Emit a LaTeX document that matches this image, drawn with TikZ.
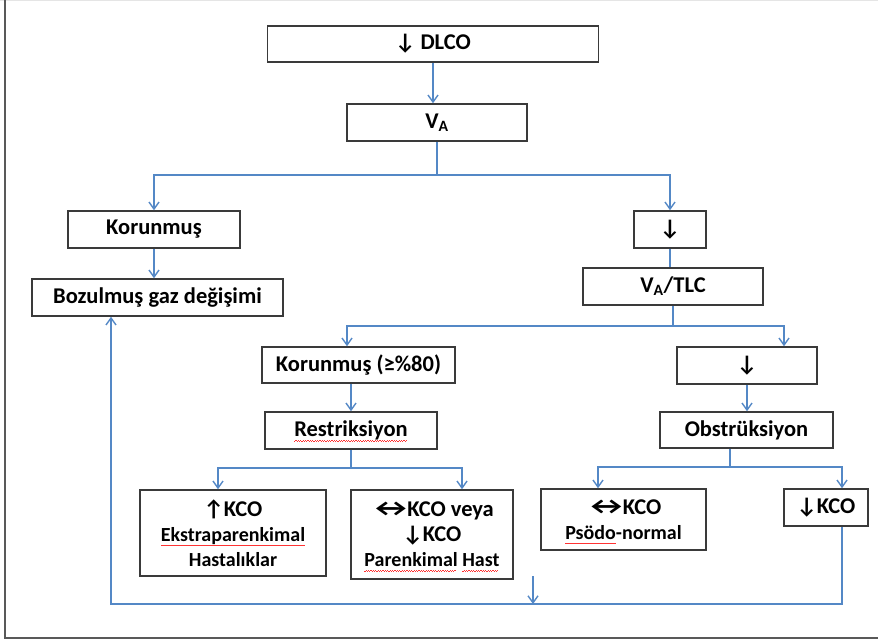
\documentclass[tikz,border=0pt]{standalone}
\usepackage{fontspec}
\usepackage{graphicx}
\setmainfont{Carlito}
\usetikzlibrary{arrows.meta}
\definecolor{flowblue}{RGB}{84,136,198}
\definecolor{boxgray}{RGB}{58,58,58}
% red spell-check wave under a word
\newcommand{\spell}[1]{\setbox0=\hbox{#1}\rlap{\raisebox{-4.5pt}[0pt][0pt]{\color{red!80}%
  \hbox to \wd0{\leaders\hbox{\rule{1.2pt}{0.6pt}\rule[0.6pt]{1.2pt}{0.6pt}}\hfill}}}\box0\relax}
\newcommand{\lrarrow}{\kern-2pt\scalebox{1.55}[1.1]{↔}\kern-6.5pt}

\begin{document}
\begin{tikzpicture}[x=1pt, y=-1pt,
    box/.style={draw=boxgray, line width=1.5pt, inner sep=0pt, align=center,
      font=\fontsize{22.5}{25}\selectfont\bfseries},
    small/.style={font=\fontsize{20}{25}\selectfont\bfseries},
    flow/.style={draw=flowblue, line width=1.4pt},
    arr/.style={flow, -{Straight Barb[length=7pt,width=10pt]}}]
  \useasboundingbox (0,0) rectangle (878,640);
  % frame
  \draw[gray!20, line width=1pt] (0,0.5) -- (878,0.5);
  \draw[gray!70!black, line width=2pt] (4.5,0) -- (4.5,637.5) -- (878,637.5);

  % top
  \node[box, minimum width=331pt, minimum height=36pt] (dlco) at (433,44) {↓ DLCO};
  \node[box, minimum width=180pt, minimum height=37pt] (va) at (437,122.5) {V\textsubscript{A}};

  % left branch
  \node[box, minimum width=172pt, minimum height=37pt] (kor1) at (154,229.5) {Korunmuş};
  \node[box, minimum width=251pt, minimum height=37pt] (bozul) at (157.5,297.5) {Bozulmuş gaz değişimi};

  % right branch
  \node[box, minimum width=72pt, minimum height=37pt] (dn1) at (670,229.5) {↓};
  \node[box, minimum width=180pt, minimum height=37pt] (vatlc) at (673,286.5) {V\textsubscript{A}/TLC};

  \node[box, minimum width=193pt, minimum height=36pt] (kor2) at (358.5,365) {Korunmuş (≥\%80)};
  \node[box, minimum width=172pt, minimum height=37pt] (restr) at (351,430.5) {\spell{Restriksiyon}};
  \node[box, minimum width=140pt, minimum height=37pt] (dn2) at (747,365.5) {↓};
  \node[box, minimum width=173pt, minimum height=36pt] (obstr) at (746.5,430) {Obstrüksiyon};

  % bottom row
  \node[box, minimum width=186pt, minimum height=86pt, small] (kco1) at (233,533)
    {{\fontsize{22.5}{25}\selectfont ↑KCO}\\ \spell{Ekstraparenkimal}\\ Hastalıklar};
  \node[box, minimum width=162pt, minimum height=89pt, small] (kco2) at (432,534.5)
    {{\fontsize{22.5}{25}\selectfont \lrarrow KCO veya}\\ {\fontsize{22.5}{25}\selectfont ↓KCO}\\ \spell{Parenkimal} \spell{Hast}};
  \node[box, minimum width=165pt, minimum height=61pt, small] (kco3) at (623.5,519.5)
    {{\fontsize{22.5}{25}\selectfont \lrarrow KCO}\\ \spell{Psödo}-normal};
  \node[box, minimum width=84pt, minimum height=37pt] (kco4) at (826,507.5) {↓KCO};

  % connectors
  \coordinate (sp1) at (437,175);
  \coordinate (sp2) at (673,326);
  \coordinate (sp3) at (351,468);
  \coordinate (sp4) at (730,467);
  \coordinate (low) at (0,604);
  \coordinate (drop) at (533,576);
  \coordinate (retA) at ([xshift=16pt]kco4.south);
  \coordinate (retB) at ([xshift=-46.5pt]bozul.south);

  \draw[arr] (dlco.south) -- (dlco.south |- va.north);
  \draw[flow] (va.south) -- (sp1);
  \draw[arr] (sp1) -| (kor1.north);
  \draw[arr] (sp1) -| (dn1.north);
  \draw[arr] (kor1.south) -- (kor1.south |- bozul.north);
  \draw[flow] (dn1.south) -- (dn1.south |- vatlc.north);

  \draw[flow] (vatlc.south) -- (sp2);
  \draw[arr] (sp2) -| ([xshift=-11.5pt]kor2.north);
  \draw[arr] (sp2) -| ([xshift=37pt]dn2.north);
  \draw[arr] (restr.north |- kor2.south) -- (restr.north);
  \draw[arr] (dn2.south) -- (dn2.south |- obstr.north);

  \draw[flow] (restr.south) -- (sp3);
  \draw[arr] (sp3) -| ([xshift=-15pt]kco1.north);
  \draw[arr] (sp3) -| ([xshift=30pt]kco2.north);
  \draw[flow] (sp4 |- obstr.south) -- (sp4);
  \draw[arr] (sp4) -| ([xshift=-25.5pt]kco3.north);
  \draw[arr] (sp4) -| ([xshift=16pt]kco4.north);

  % back to gas exchange
  \draw[arr] (retA) |- (retB |- low) -- (retB);
  \draw[arr] (drop) -- (drop |- low);
\end{tikzpicture}
\end{document}
